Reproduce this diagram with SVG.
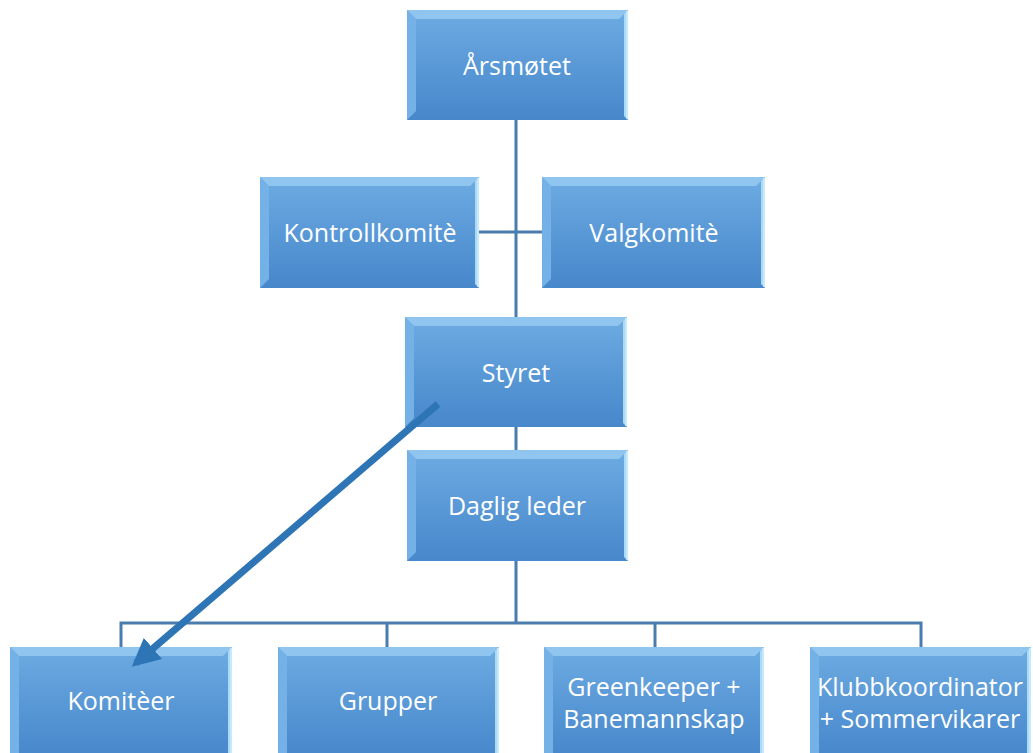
<svg xmlns="http://www.w3.org/2000/svg" width="1033" height="753" viewBox="0 0 1033 753">
<defs>
<linearGradient id="face" x1="0" y1="0" x2="0" y2="1">
<stop offset="0" stop-color="#6DABE2"/>
<stop offset="1" stop-color="#4787CB"/>
</linearGradient>
<marker id="ah" viewBox="0 0 10 10" refX="8" refY="5" markerWidth="4" markerHeight="4" orient="auto" markerUnits="strokeWidth">
<path d="M0,0 L10,5 L0,10 z" fill="#2E75B6"/>
</marker>
</defs>
<style>
.face{fill:url(#face);}
.bt{fill:#8FC5EF;}
.bl{fill:#74B1E6;}
.br{fill:#A9DAF6;}
.edge{fill:none;stroke:#D2EEFC;stroke-width:1.5;}
.lbl{font-family:"Open Sans","Liberation Sans",sans-serif;font-size:25px;fill:#FFFFFF;text-anchor:middle;dominant-baseline:central;}
.conn{fill:none;stroke:#4A7DAE;stroke-width:3;}
.arrow{fill:none;stroke:#2E75B6;stroke-width:7;}
</style>
<rect width="1033" height="753" fill="#FFFFFF"/>
<g id="connectors">
<line class="conn" x1="516" y1="120" x2="516" y2="623"/>
<line class="conn" x1="479" y1="232" x2="542" y2="232"/>
<polyline class="conn" points="121,647 121,623 921,623 921,647"/>
<line class="conn" x1="387" y1="623" x2="387" y2="647"/>
<line class="conn" x1="655" y1="623" x2="655" y2="647"/>
</g>
<g id="n-arsmotet">
<rect class="face" x="407" y="10" width="221" height="110"/>
<polygon class="bt" points="407,10 628,10 619,19 416,19"/>
<polygon class="bl" points="407,10 416,19 416,111 407,120"/>
<polygon class="br" points="628,10 628,120 624,116 624,14"/>
<line class="edge" x1="627" y1="11" x2="627" y2="119"/>
<text class="lbl" x="517" y="65">Årsmøtet</text>
</g>
<g id="n-kontroll">
<rect class="face" x="260" y="177" width="219" height="111"/>
<polygon class="bt" points="260,177 479,177 470,186 269,186"/>
<polygon class="bl" points="260,177 269,186 269,279 260,288"/>
<polygon class="br" points="479,177 479,288 475,284 475,181"/>
<line class="edge" x1="478" y1="178" x2="478" y2="287"/>
<text class="lbl" x="370" y="232">Kontrollkomitè</text>
</g>
<g id="n-valg">
<rect class="face" x="542" y="177" width="223" height="111"/>
<polygon class="bt" points="542,177 765,177 756,186 551,186"/>
<polygon class="bl" points="542,177 551,186 551,279 542,288"/>
<polygon class="br" points="765,177 765,288 761,284 761,181"/>
<line class="edge" x1="764" y1="178" x2="764" y2="287"/>
<text class="lbl" x="654" y="232">Valgkomitè</text>
</g>
<g id="n-styret">
<rect class="face" x="405" y="317" width="222" height="110"/>
<polygon class="bt" points="405,317 627,317 618,326 414,326"/>
<polygon class="bl" points="405,317 414,326 414,418 405,427"/>
<polygon class="br" points="627,317 627,427 623,423 623,321"/>
<line class="edge" x1="626" y1="318" x2="626" y2="426"/>
<text class="lbl" x="516" y="372">Styret</text>
</g>
<g id="n-daglig">
<rect class="face" x="407" y="450" width="221" height="111"/>
<polygon class="bt" points="407,450 628,450 619,459 416,459"/>
<polygon class="bl" points="407,450 416,459 416,552 407,561"/>
<polygon class="br" points="628,450 628,561 624,557 624,454"/>
<line class="edge" x1="627" y1="451" x2="627" y2="560"/>
<text class="lbl" x="517" y="505">Daglig leder</text>
</g>
<g id="n-komiteer">
<rect class="face" x="10" y="647" width="222" height="110"/>
<polygon class="bt" points="10,647 232,647 223,656 19,656"/>
<polygon class="bl" points="10,647 19,656 19,753 10,753"/>
<polygon class="br" points="232,647 232,753 228,753 228,651"/>
<line class="edge" x1="231" y1="648" x2="231" y2="753"/>
<text class="lbl" x="121" y="700">Komitèer</text>
</g>
<g id="n-grupper">
<rect class="face" x="278" y="647" width="221" height="110"/>
<polygon class="bt" points="278,647 499,647 490,656 287,656"/>
<polygon class="bl" points="278,647 287,656 287,753 278,753"/>
<polygon class="br" points="499,647 499,753 495,753 495,651"/>
<line class="edge" x1="498" y1="648" x2="498" y2="753"/>
<text class="lbl" x="388" y="700">Grupper</text>
</g>
<g id="n-greenkeeper">
<rect class="face" x="544" y="647" width="220" height="110"/>
<polygon class="bt" points="544,647 764,647 755,656 553,656"/>
<polygon class="bl" points="544,647 553,656 553,753 544,753"/>
<polygon class="br" points="764,647 764,753 760,753 760,651"/>
<line class="edge" x1="763" y1="648" x2="763" y2="753"/>
<text class="lbl" x="654" y="686">Greenkeeper +</text>
<text class="lbl" x="654" y="718">Banemannskap</text>
</g>
<g id="n-klubb">
<rect class="face" x="810" y="647" width="221" height="110"/>
<polygon class="bt" points="810,647 1031,647 1022,656 819,656"/>
<polygon class="bl" points="810,647 819,656 819,753 810,753"/>
<polygon class="br" points="1031,647 1031,753 1027,753 1027,651"/>
<line class="edge" x1="1030" y1="648" x2="1030" y2="753"/>
<text class="lbl" x="920" y="686">Klubbkoordinator</text>
<text class="lbl" x="920" y="718">+ Sommervikarer</text>
</g>
<g id="arrow">
<line class="arrow" x1="438" y1="404" x2="136" y2="663" marker-end="url(#ah)"/>
</g>
</svg>
